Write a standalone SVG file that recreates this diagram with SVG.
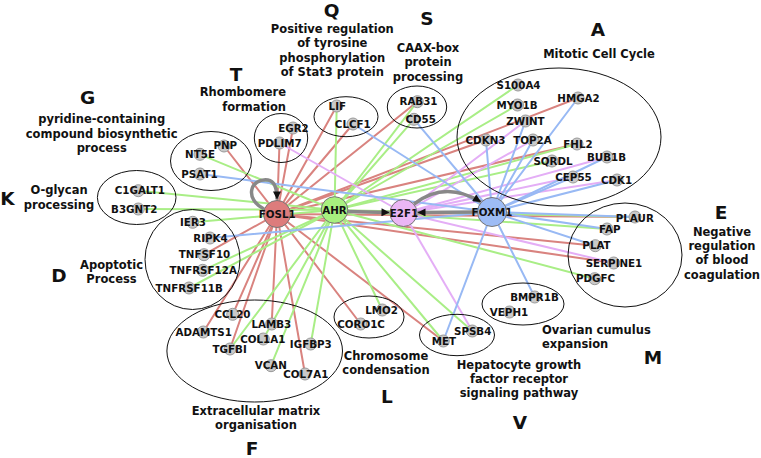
<svg xmlns="http://www.w3.org/2000/svg" width="761" height="458" viewBox="0 0 761 458">
<style>
.e line{stroke-width:2;stroke-linecap:round}
.r line{stroke:#d9837f}
.g line{stroke:#a9ee86}
.p line{stroke:#e4aef6}
.b line{stroke:#98b9f4}
.gn circle{fill:#c9c9c9;stroke:#9a9a9a;stroke-width:1}
.gn text{font-family:"DejaVu Sans",sans-serif;font-weight:bold;font-size:10.3px;text-anchor:middle;fill:#111}
.hub circle{stroke:#777;stroke-width:1}
.hub text{font-family:"DejaVu Sans",sans-serif;font-weight:bold;font-size:10.3px;text-anchor:middle;fill:#111}
.cl ellipse{fill:none;stroke:#111;stroke-width:1}
.cl text{font-family:"DejaVu Sans",sans-serif;font-weight:bold;font-size:11.5px;text-anchor:middle;fill:#111}
.cl text.big{font-size:18.5px}
.arr{fill:none;stroke:#888;stroke-width:3.5}
</style>
<defs>
<marker id="ah" viewBox="0 0 10 10" refX="10" refY="5" markerWidth="9" markerHeight="8" markerUnits="userSpaceOnUse" orient="auto"><path d="M0,0 L10,5 L0,10 z" fill="#111"/></marker>
</defs>
<rect width="761" height="458" fill="#fff"/>

<g id="connectors">
<g class="e r">
<line x1="277" y1="214" x2="224" y2="146"/>
<line x1="277" y1="214" x2="293" y2="128"/>
<line x1="277" y1="214" x2="279.5" y2="143"/>
<line x1="277" y1="214" x2="336.7" y2="106"/>
<line x1="277" y1="214" x2="353" y2="124"/>
<line x1="277" y1="214" x2="417.3" y2="101.7"/>
<line x1="277" y1="214" x2="578" y2="98"/>
<line x1="277" y1="214" x2="486" y2="140"/>
<line x1="277" y1="214" x2="577" y2="144"/>
<line x1="277" y1="214" x2="635" y2="217"/>
<line x1="277" y1="214" x2="595.3" y2="245.7"/>
<line x1="277" y1="214" x2="613.7" y2="263"/>
<line x1="277" y1="214" x2="443.3" y2="341"/>
<line x1="277" y1="214" x2="360.7" y2="324"/>
<line x1="277" y1="214" x2="305" y2="374"/>
<line x1="277" y1="214" x2="271.7" y2="324"/>
<line x1="277" y1="214" x2="230" y2="349"/>
<line x1="277" y1="214" x2="232.7" y2="314.3"/>
<line x1="277" y1="214" x2="203.3" y2="332"/>
<line x1="277" y1="214" x2="204" y2="254.7"/>
</g>
<g class="e g">
<line x1="334.5" y1="210" x2="200" y2="154.3"/>
<line x1="334.5" y1="210" x2="138.3" y2="190.7"/>
<line x1="334.5" y1="210" x2="138.3" y2="209"/>
<line x1="334.5" y1="210" x2="192.7" y2="222.3"/>
<line x1="334.5" y1="210" x2="202.7" y2="270.3"/>
<line x1="334.5" y1="210" x2="189" y2="288"/>
<line x1="334.5" y1="210" x2="230" y2="349"/>
<line x1="334.5" y1="210" x2="263.3" y2="339"/>
<line x1="334.5" y1="210" x2="271" y2="365.7"/>
<line x1="334.5" y1="210" x2="310.7" y2="344"/>
<line x1="334.5" y1="210" x2="382.3" y2="310"/>
<line x1="334.5" y1="210" x2="443.3" y2="341"/>
<line x1="334.5" y1="210" x2="472.3" y2="331"/>
<line x1="334.5" y1="210" x2="594.7" y2="278.7"/>
<line x1="334.5" y1="210" x2="607" y2="229"/>
<line x1="334.5" y1="210" x2="635" y2="217"/>
<line x1="334.5" y1="210" x2="552" y2="161"/>
<line x1="334.5" y1="210" x2="577" y2="144"/>
<line x1="334.5" y1="210" x2="517.5" y2="105"/>
<line x1="334.5" y1="210" x2="518" y2="85"/>
<line x1="334.5" y1="210" x2="414" y2="119.3"/>
<line x1="334.5" y1="210" x2="417.3" y2="101.7"/>
<line x1="334.5" y1="210" x2="336.7" y2="106"/>
</g>
<g class="e p">
<line x1="403.5" y1="213" x2="279.5" y2="143"/>
<line x1="403.5" y1="213" x2="525.5" y2="121"/>
<line x1="403.5" y1="213" x2="533" y2="140"/>
<line x1="403.5" y1="213" x2="607" y2="157"/>
<line x1="403.5" y1="213" x2="573" y2="177"/>
<line x1="403.5" y1="213" x2="617" y2="180"/>
<line x1="403.5" y1="213" x2="613.7" y2="263"/>
<line x1="403.5" y1="213" x2="472.3" y2="331"/>
</g>
<g class="e b">
<line x1="492" y1="212" x2="200" y2="174"/>
<line x1="492" y1="212" x2="210" y2="238"/>
<line x1="492" y1="212" x2="353" y2="124"/>
<line x1="492" y1="212" x2="414" y2="119.3"/>
<line x1="492" y1="212" x2="578" y2="98"/>
<line x1="492" y1="212" x2="525.5" y2="121"/>
<line x1="492" y1="212" x2="533" y2="140"/>
<line x1="492" y1="212" x2="486" y2="140"/>
<line x1="492" y1="212" x2="607" y2="157"/>
<line x1="492" y1="212" x2="573" y2="177"/>
<line x1="492" y1="212" x2="617" y2="180"/>
<line x1="492" y1="212" x2="635" y2="217"/>
<line x1="492" y1="212" x2="607" y2="229"/>
<line x1="492" y1="212" x2="595.3" y2="245.7"/>
<line x1="492" y1="212" x2="534.7" y2="297"/>
<line x1="492" y1="212" x2="443.3" y2="341"/>
</g>
<path class="arr" d="M347,211.5 L389.5,212.5" marker-end="url(#ah)"/>
<path class="arr" d="M478,212 L417.5,212.5" marker-end="url(#ah)"/>
<path class="arr" d="M414,204 Q445,180 481,202" marker-end="url(#ah)"/>
<path class="arr" d="M264,209 C244,199 250,178 268,180 C275,181 277,189 277,199.5" marker-end="url(#ah)"/>
</g>

<g id="cluster-A" class="cl"><ellipse cx="559" cy="137" rx="102" ry="69"/><text class="big" x="598" y="36">A</text><text x="599" y="57.5">Mitotic Cell Cycle</text></g>
<g id="cluster-E" class="cl"><ellipse cx="625" cy="255" rx="57" ry="52"/><text class="big" x="721" y="219">E</text><text x="722" y="236">Negative</text><text x="722" y="250">regulation</text><text x="722" y="264">of blood</text><text x="722" y="278.5">coagulation</text></g>
<g id="cluster-M" class="cl"><ellipse cx="523" cy="304" rx="41" ry="21"/><text x="542" y="333.5" style="text-anchor:start">Ovarian cumulus</text><text x="542" y="347.5" style="text-anchor:start">expansion</text><text class="big" x="653" y="364">M</text></g>
<g id="cluster-V" class="cl"><ellipse cx="457" cy="335" rx="37.5" ry="20.7"/><text x="519" y="369">Hepatocyte growth</text><text x="519" y="383">factor receptor</text><text x="519" y="397">signaling pathway</text><text class="big" x="520" y="429">V</text></g>
<g id="cluster-L" class="cl"><ellipse cx="369" cy="317" rx="35" ry="21"/><text x="386" y="360">Chromosome</text><text x="386" y="374">condensation</text><text class="big" x="387" y="402.5">L</text></g>
<g id="cluster-F" class="cl"><ellipse cx="254.7" cy="351" rx="87.8" ry="51"/><text x="256" y="415">Extracellular matrix</text><text x="256" y="429">organisation</text><text class="big" x="252" y="455">F</text></g>
<g id="cluster-D" class="cl"><ellipse cx="192.5" cy="259.5" rx="47.5" ry="50"/><text x="111.5" y="268.5">Apoptotic</text><text x="111.5" y="283">Process</text><text class="big" x="59" y="282">D</text></g>
<g id="cluster-K" class="cl"><ellipse cx="136.7" cy="197.5" rx="39.3" ry="27"/><text x="59" y="194">O-glycan</text><text x="59" y="208.5">processing</text><text class="big" x="7.5" y="205">K</text></g>
<g id="cluster-G" class="cl"><ellipse cx="211" cy="161" rx="40.5" ry="29.5"/><text class="big" x="87.5" y="104">G</text><text x="101.7" y="123">pyridine-containing</text><text x="101.7" y="138">compound biosynthetic</text><text x="101.7" y="152">process</text></g>
<g id="cluster-T" class="cl"><ellipse cx="281" cy="138" rx="26.7" ry="24.5"/><text class="big" x="236" y="81">T</text><text x="286" y="96" style="text-anchor:end">Rhombomere</text><text x="286" y="110.5" style="text-anchor:end">formation</text></g>
<g id="cluster-Q" class="cl"><ellipse cx="346" cy="116.7" rx="32" ry="20"/><text class="big" x="331.5" y="17">Q</text><text x="332.3" y="33">Positive regulation</text><text x="332.3" y="47">of tyrosine</text><text x="332.3" y="61.5">phosphorylation</text><text x="332.3" y="76">of Stat3 protein</text></g>
<g id="cluster-S" class="cl"><ellipse cx="417" cy="107" rx="29.7" ry="21"/><text class="big" x="427" y="25">S</text><text x="428" y="51.5">CAAX-box</text><text x="428" y="66">protein</text><text x="428" y="81">processing</text></g>

<g id="n-S100A4" class="gn"><circle cx="518" cy="85" r="6"/><text x="518.5" y="88.7">S100A4</text></g>
<g id="n-MYO1B" class="gn"><circle cx="517.5" cy="105" r="6"/><text x="517" y="108.7">MYO1B</text></g>
<g id="n-HMGA2" class="gn"><circle cx="578" cy="98" r="6"/><text x="578.5" y="101.7">HMGA2</text></g>
<g id="n-ZWINT" class="gn"><circle cx="525.5" cy="121" r="6"/><text x="525.5" y="124.7">ZWINT</text></g>
<g id="n-CDKN3" class="gn"><circle cx="486" cy="140" r="6"/><text x="485.5" y="143.7">CDKN3</text></g>
<g id="n-TOP2A" class="gn"><circle cx="533" cy="140" r="6"/><text x="532.5" y="143.7">TOP2A</text></g>
<g id="n-FHL2" class="gn"><circle cx="577" cy="144" r="6"/><text x="578" y="147.7">FHL2</text></g>
<g id="n-SQRDL" class="gn"><circle cx="552" cy="161" r="6"/><text x="553" y="164.7">SQRDL</text></g>
<g id="n-BUB1B" class="gn"><circle cx="607" cy="157" r="6"/><text x="606.5" y="160.7">BUB1B</text></g>
<g id="n-CEP55" class="gn"><circle cx="573" cy="177" r="6"/><text x="573.5" y="180.7">CEP55</text></g>
<g id="n-CDK1" class="gn"><circle cx="617" cy="180" r="6"/><text x="616.5" y="183.7">CDK1</text></g>
<g id="n-PLAUR" class="gn"><circle cx="635" cy="217" r="6"/><text x="634.8" y="221.5">PLAUR</text></g>
<g id="n-FAP" class="gn"><circle cx="607" cy="229" r="6"/><text x="609.8" y="232.7">FAP</text></g>
<g id="n-PLAT" class="gn"><circle cx="595.3" cy="245.7" r="6"/><text x="596.5" y="249.4">PLAT</text></g>
<g id="n-SERPINE1" class="gn"><circle cx="613.7" cy="263" r="6"/><text x="614" y="266.7">SERPINE1</text></g>
<g id="n-PDGFC" class="gn"><circle cx="594.7" cy="278.7" r="6"/><text x="595.5" y="282">PDGFC</text></g>
<g id="n-BMPR1B" class="gn"><circle cx="534.7" cy="297" r="6"/><text x="534.5" y="300.7">BMPR1B</text></g>
<g id="n-VEPH1" class="gn"><circle cx="509.5" cy="312" r="6"/><text x="509" y="315.7">VEPH1</text></g>
<g id="n-SPSB4" class="gn"><circle cx="472.3" cy="331" r="6"/><text x="472.7" y="334.7">SPSB4</text></g>
<g id="n-MET" class="gn"><circle cx="443.3" cy="341" r="6"/><text x="444" y="344.7">MET</text></g>
<g id="n-LMO2" class="gn"><circle cx="382.3" cy="310" r="6"/><text x="381.5" y="313.7">LMO2</text></g>
<g id="n-CORO1C" class="gn"><circle cx="360.7" cy="324" r="6"/><text x="361" y="327.7">CORO1C</text></g>
<g id="n-CCL20" class="gn"><circle cx="232.7" cy="314.3" r="6"/><text x="232.5" y="318">CCL20</text></g>
<g id="n-ADAMTS1" class="gn"><circle cx="203.3" cy="332" r="6"/><text x="203.7" y="335.7">ADAMTS1</text></g>
<g id="n-LAMB3" class="gn"><circle cx="271.7" cy="324" r="6"/><text x="271.3" y="327.7">LAMB3</text></g>
<g id="n-COL1A1" class="gn"><circle cx="263.3" cy="339" r="6"/><text x="262.8" y="342.7">COL1A1</text></g>
<g id="n-TGFBI" class="gn"><circle cx="230" cy="349" r="6"/><text x="229.7" y="352.7">TGFBI</text></g>
<g id="n-IGFBP3" class="gn"><circle cx="310.7" cy="344" r="6"/><text x="310.8" y="347.7">IGFBP3</text></g>
<g id="n-VCAN" class="gn"><circle cx="271" cy="365.7" r="6"/><text x="270.8" y="369.2">VCAN</text></g>
<g id="n-COL7A1" class="gn"><circle cx="305" cy="374" r="6"/><text x="305.8" y="377.7">COL7A1</text></g>
<g id="n-IER3" class="gn"><circle cx="192.7" cy="222.3" r="6"/><text x="193" y="226">IER3</text></g>
<g id="n-RIPK4" class="gn"><circle cx="210" cy="238" r="6"/><text x="210.5" y="241.7">RIPK4</text></g>
<g id="n-TNFSF10" class="gn"><circle cx="204" cy="254.7" r="6"/><text x="204.5" y="258.4">TNFSF10</text></g>
<g id="n-TNFRSF12A" class="gn"><circle cx="202.7" cy="270.3" r="6"/><text x="203.2" y="274">TNFRSF12A</text></g>
<g id="n-TNFRSF11B" class="gn"><circle cx="189" cy="288" r="6"/><text x="189.2" y="291.7">TNFRSF11B</text></g>
<g id="n-C1GALT1" class="gn"><circle cx="138.3" cy="190.7" r="6"/><text x="139.8" y="194.4">C1GALT1</text></g>
<g id="n-B3GNT2" class="gn"><circle cx="138.3" cy="209" r="6"/><text x="134.2" y="212.7">B3GNT2</text></g>
<g id="n-PNP" class="gn"><circle cx="224" cy="146" r="6"/><text x="225.3" y="149.2">PNP</text></g>
<g id="n-NT5E" class="gn"><circle cx="200" cy="154.3" r="6"/><text x="200" y="158">NT5E</text></g>
<g id="n-PSAT1" class="gn"><circle cx="200" cy="174" r="6"/><text x="199.5" y="177.7">PSAT1</text></g>
<g id="n-EGR2" class="gn"><circle cx="293" cy="128" r="6"/><text x="293.5" y="131.7">EGR2</text></g>
<g id="n-PDLIM7" class="gn"><circle cx="279.5" cy="143" r="6"/><text x="279.7" y="146.7">PDLIM7</text></g>
<g id="n-LIF" class="gn"><circle cx="336.7" cy="106" r="6"/><text x="337.3" y="109.7">LIF</text></g>
<g id="n-CLCF1" class="gn"><circle cx="353" cy="124" r="6"/><text x="352.8" y="127.7">CLCF1</text></g>
<g id="n-RAB31" class="gn"><circle cx="417.3" cy="101.7" r="6"/><text x="418.5" y="105.4">RAB31</text></g>
<g id="n-CD55" class="gn"><circle cx="414" cy="119.3" r="6"/><text x="420.7" y="123">CD55</text></g>

<g id="hub-FOSL1" class="hub"><circle cx="277" cy="214" r="13.5" fill="#dd7c7c"/><text x="277.3" y="218.3">FOSL1</text></g>
<g id="hub-AHR" class="hub"><circle cx="334.5" cy="210" r="13.3" fill="#a8f07f"/><text x="334.5" y="213.8">AHR</text></g>
<g id="hub-E2F1" class="hub"><circle cx="403.5" cy="213" r="13.5" fill="#ebb6f5"/><text x="404" y="216.7">E2F1</text></g>
<g id="hub-FOXM1" class="hub"><circle cx="492" cy="212" r="14.5" fill="#9dbcf5"/><text x="492" y="215.7">FOXM1</text></g>
</svg>
